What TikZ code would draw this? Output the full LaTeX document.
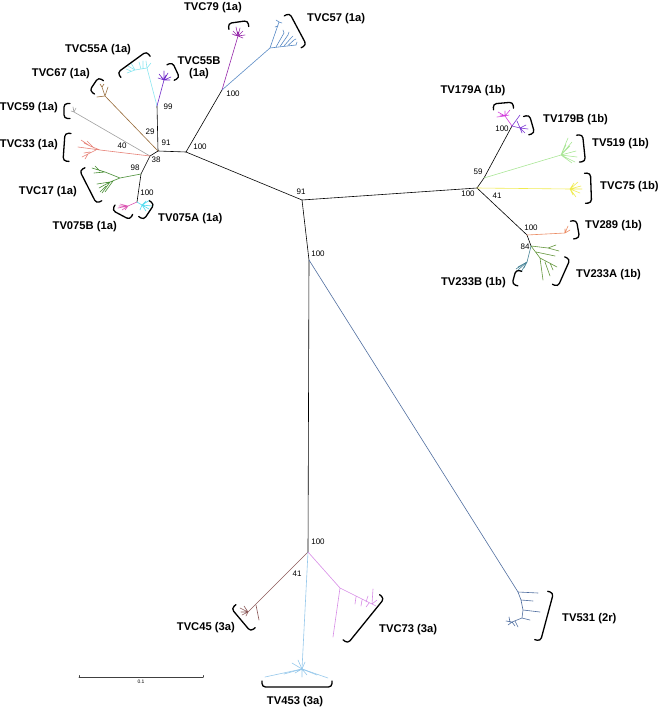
\documentclass[tikz,border=0pt]{standalone}
\usepackage{fontspec}
\setmainfont{Liberation Sans}
\usepackage{xcolor}
\usepackage{tikz}

\definecolor{c79}{RGB}{150,40,170}
\definecolor{c57}{RGB}{85,135,195}
\definecolor{c55a}{RGB}{140,230,240}
\definecolor{c55b}{RGB}{110,40,200}
\definecolor{c67}{RGB}{150,105,55}
\definecolor{c59}{RGB}{160,160,160}
\definecolor{c33}{RGB}{230,130,120}
\definecolor{c17}{RGB}{70,140,50}
\definecolor{c075b}{RGB}{220,90,180}
\definecolor{c075a}{RGB}{80,220,240}
\definecolor{c179a}{RGB}{210,60,220}
\definecolor{c179b}{RGB}{120,50,210}
\definecolor{c519}{RGB}{170,230,150}
\definecolor{c75}{RGB}{240,235,80}
\definecolor{c289}{RGB}{235,140,100}
\definecolor{c233a}{RGB}{100,150,60}
\definecolor{c233b}{RGB}{70,130,150}
\definecolor{c531}{RGB}{80,110,160}
\definecolor{c45}{RGB}{140,90,90}
\definecolor{c73}{RGB}{215,140,230}
\definecolor{c453}{RGB}{150,200,235}

\tikzset{
  branch/.style={line width=0.6pt},
  brkline/.style={line width=1.3pt, rounded corners=3.5pt},
  pics/brk/.style={code={\draw[brkline] (-#1/2,6) -- (-#1/2,0) -- (#1/2,0) -- (#1/2,6);}},
  clade/.style={font=\fontsize{11.2}{12.5}\selectfont\bfseries, inner sep=0pt},
  boot/.style={font=\fontsize{8}{9}\selectfont, inner sep=0pt},
}

\begin{document}
\begin{tikzpicture}[x=1pt, y=-1pt, line cap=round, line join=round]
        \useasboundingbox (0,0) rectangle (661,712);

        % inner nodes
        \coordinate (c91) at (302,200);
        \coordinate (a100) at (186,152);
        \coordinate (a100t) at (222,90);
        \coordinate (a91) at (158,151);
        \coordinate (a99) at (157,106);
        \coordinate (a38) at (150,156);
        \coordinate (a98) at (141,174);
        \coordinate (a075) at (137,202);
        \coordinate (r100) at (477,188);
        \coordinate (r59) at (484,178);
        \coordinate (r179) at (512,126);
        \coordinate (r289) at (527,235);
        \coordinate (r84) at (531,246);
        \coordinate (b100) at (309,260);
        \coordinate (b3a) at (308,552);

        % backbone
        \draw[branch] (a100t) -- (a100) -- (c91) -- (r100) -- (r59) -- (r179);
        \draw[branch] (a100) -- (a91) -- (a99);
        \draw[branch] (a91) -- (a38) -- (a98) -- (a075);
        \draw[branch] (r100) -- (r289) -- (r84);
        \draw[branch] (c91) -- (b100) -- (b3a);

        % TVC79
        \coordinate (k79) at (238,36);
        \draw[branch, c79] (a100t) -- (k79);
        \draw[branch, c79] foreach \dx/\dy in {-5/-5,-2/-9,2/-8,5/-5,7/-1,5/2,-4/-1,0/-4,-6/-2} {(k79) -- ++(\dx,\dy)};

        % TVC57
        \coordinate (k57) at (270,48);
        \draw[branch, c57] (a100t) -- (k57) -- (296,45);
        \draw[branch, c57] (k57) -- (279,22) (279,22) -- ++(-3,-2) (279,22) -- ++(3,1) (278,26) -- ++(-3,1)
          (276,47) -- (284,33) (280,46.5) -- (288,35) (284,46) -- (291,38) (288,45.5) -- (294,40)
          (284,33) -- ++(-1,-3) (288,35) -- ++(1,-3) (291,38) -- ++(2,-2) (294,40) -- ++(2,-1) (296,45) -- ++(1,-3);

        % TVC55A
        \coordinate (k55a) at (147,68);
        \draw[branch, c55a] (a99) -- (k55a) -- (146,61);
        \draw[branch, c55a] (k55a) -- (135,70) -- (127,73) (135,70) -- (128,66) (141,69) -- (139,62)
          (135,70) -- (131,63) (k55a) -- (151,63) (131,71) -- (126,69) (143,68) -- (143,61);

        % TVC55B
        \coordinate (k55b) at (164,80);
        \draw[branch, c55b] (a99) -- (k55b);
        \draw[branch, c55b] foreach \dx/\dy in {-5/-6,0/-9,4/-7,7/-3,-3/-3,6/0,-6/-2,2/-5} {(k55b) -- ++(\dx,\dy)};

        % TVC67
        \coordinate (k67) at (105,96);
        \draw[branch, c67] (a91) -- (k67) -- (97,97) (k67) -- (102,87) -- (100,84) (102,87) -- (104,84) (k67) -- (108,87);

        % TVC59
        \coordinate (k59) at (74,112);
        \draw[branch, c59] (a38) -- (k59) -- ++(-1,-5) (k59) -- ++(2,-4) (k59) -- ++(-3,-1);

        % TVC33
        \coordinate (k33) at (100,150);
        \draw[branch, c33] (a38) -- (k33) -- (78,147) (k33) -- (90,146) -- (81,140) (90,146) -- (84,143)
          (96,150) -- (82,157) (90,152) -- (84,153) (94,148) -- (87,141) (88,154) -- (85,159);

        % TVC17
        \coordinate (k17) at (120,178);
        \draw[branch, c17] (a98) -- (k17) -- (105,172) -- (92,168) (105,172) -- (94,173) (100,171) -- (95,166)
          (k17) -- (110,182) -- (102,193) (110,182) -- (99,188) (110,182) -- (97,184) (106,186) -- (100,192) (113,181) -- (105,192);

        % TV075B and TV075A
        \coordinate (k075b) at (128,206);
        \coordinate (k075a) at (142,205);
        \draw[branch, c075b] (a075) -- (k075b);
        \draw[branch, c075b] foreach \dx/\dy in {-10/2,-8/-2,-6/4,-3/4,-9/0} {(k075b) -- ++(\dx,\dy)};
        \draw[branch, c075a] (a075) -- (k075a);
        \draw[branch, c075a] foreach \dx/\dy in {8/-5,10/1,4/6,-2/5,4/-4,7/4} {(k075a) -- ++(\dx,\dy)};

        % TV179A and TV179B
        \coordinate (k179a) at (505,116);
        \coordinate (k179b) at (520,128);
        \draw[branch, c179a] (r179) -- (k179a);
        \draw[branch, c179a] foreach \dx/\dy in {-7/-4,-5/-1,0/-5,5/-6,4/-1,-8/1} {(k179a) -- ++(\dx,\dy)};
        \draw[branch, c179b] (r179) -- (k179b) (r179) -- (520,115);
        \draw[branch, c179b] foreach \dx/\dy in {5/5,8/1,-3/-7,6/-3,2/5} {(k179b) -- ++(\dx,\dy)};

        % TV519
        \coordinate (k519) at (561,155);
        \draw[branch, c519] (r59) -- (k519);
        \draw[branch, c519] foreach \dx/\dy in {7/-17,11/-13,15/-4,16/2,14/7,11/8,9/-9,5/-10} {(k519) -- ++(\dx,\dy)};

        % TVC75
        \coordinate (k75) at (570,189);
        \draw[branch, c75] (r100) -- (k75);
        \draw[branch, c75] foreach \dx/\dy in {8/-7,12/0,6/8,4/-6,10/4,3/6,11/-3} {(k75) -- ++(\dx,\dy)};

        % TV289
        \coordinate (k289) at (565,233);
        \draw[branch, c289] (r289) -- (k289) -- ++(3,-7) (k289) -- ++(5,-3) (k289) -- ++(0,-4);

        % TV233A
        \coordinate (k233a) at (540,258);
        \draw[branch, c233a] (r84) -- (548,248) -- (559,251) (548,248) -- (556,245) (r84) -- (k233a) -- (557,267)
          (k233a) -- (543,280) (536,252) -- (555,256) (545,262) -- (550,276) (550,263) -- (553,270);

        % TV233B
        \coordinate (k233b) at (527,262);
        \draw[branch, c233b] (r84) -- (k233b) -- (518,270);
        \draw[branch, c233b] foreach \dx/\dy in {-9/5,-6/10,-3/6,-11/7} {(k233b) -- ++(\dx,\dy)};

        % TV531
        \coordinate (k531) at (518,592);
        \draw[branch, c531] (b100) -- (k531) -- (538,593);
        \draw[branch, c531] (k531) -- (521,600) -- (523,610) -- (522,618) -- (512,622) -- (506,621)
          (521,600) -- (533,601) (523,610) -- (540,612) (522,618) -- (530,620)
          (512,622) -- (508,625) (512,622) -- (515,626) (515,621) -- (518,627) (510,622) -- (509,617);

        % TVC45
        \coordinate (k45) at (248,612);
        \draw[branch, c45] (b3a) -- (k45);
        \draw[branch, c45] foreach \dx/\dy in {-8/-4,-6/3,-4/-6,-7/0,-2/4} {(k45) -- ++(\dx,\dy)};
        \draw[branch, c45] (256,605) -- (259,620);

        % TV453
        \coordinate (k453) at (302,669);
        \draw[branch, c453] (b3a) -- (k453) -- (265,677) (k453) -- (328,678);
        \draw[branch, c453] foreach \dx/\dy in {-10/-6,-7/4,5/6,8/3,0/8,-4/-9,3/-7,-18/5,15/6} {(k453) -- ++(\dx,\dy)};

        % TVC73
        \coordinate (k73) at (340,588);
        \draw[branch, c73] (b3a) -- (k73) -- (333,637) (k73) -- (372,604) -- (373,589)
          (356,597) -- (355,604) (362,600) -- (361,606) (366,602) -- (368,596) (372,604) -- (377,600)
          (369,603) -- (366,607) (372,604) -- (376,606);

        % bootstrap values
        \node[boot] (s1) at (233,94) {100};
        \node[boot] (s2) at (168,107) {99};
        \node[boot] (s3) at (150,132) {29};
        \node[boot] (s4) at (166,143) {91};
        \node[boot] (s5) at (200,147) {100};
        \node[boot] (s6) at (122,146) {40};
        \node[boot] (s7) at (156,160) {38};
        \node[boot] (s8) at (135,168) {98};
        \node[boot] (s9) at (147,193) {100};
        \node[boot] (s10) at (301,192) {91};
        \node[boot] (s11) at (502,129) {100};
        \node[boot] (s12) at (478,172) {59};
        \node[boot] (s13) at (468,194) {100};
        \node[boot] (s14) at (497,196) {41};
        \node[boot] (s15) at (531,228) {100};
        \node[boot] (s16) at (525,247) {84};
        \node[boot] (s17) at (318,254) {100};
        \node[boot] (s18) at (318,542) {100};
        \node[boot] (s19) at (297,574) {41};

        % brackets
        \pic[rotate=8] at (238,22) {brk=20};
        \pic[rotate=-62] at (298,29) {brk=36};
        \pic[rotate=36] at (132,62) {brk=36};
        \pic[rotate=-65] at (176,70) {brk=17};
        \pic[rotate=56] at (94,84) {brk=16};
        \pic[rotate=90] at (64,111) {brk=15};
        \pic[rotate=86] at (64,147) {brk=28};
        \pic[rotate=117] at (88,187) {brk=37};
        \pic[rotate=152] at (121,215) {brk=20};
        \pic[rotate=-124] at (149,212) {brk=19};
        \pic[rotate=5] at (503,103) {brk=20};
        \pic[rotate=-74] at (532,124) {brk=19};
        \pic[rotate=-84] at (584,148) {brk=27};
        \pic[rotate=-88] at (591,188) {brk=30};
        \pic[rotate=-80] at (578,229) {brk=18};
        \pic[rotate=-114] at (564,273) {brk=30};
        \pic[rotate=75] at (514,277) {brk=15};
        \pic[rotate=-105] at (547,617) {brk=50};
        \pic[rotate=130] at (241,620) {brk=30};
        \pic[rotate=-129] at (366,621) {brk=58};
        \pic[rotate=180] at (297,687) {brk=70};

        % clade names
        \node[clade] (t79) at (213,8) {TVC79 (1a)};
        \node[clade, anchor=west] (t57) at (307,19) {TVC57 (1a)};
        \node[clade] (t55a) at (98,50) {TVC55A (1a)};
        \node[clade, align=center] (t55b) at (199,68) {TVC55B\\(1a)};
        \node[clade, anchor=east] (t67) at (90,74) {TVC67 (1a)};
        \node[clade, anchor=east] (t59) at (58,108) {TVC59 (1a)};
        \node[clade, anchor=east] (t33) at (58,145) {TVC33 (1a)};
        \node[clade, anchor=east] (t17) at (77,192) {TVC17 (1a)};
        \node[clade, anchor=east] (t075b) at (117,227) {TV075B (1a)};
        \node[clade, anchor=west] (t075a) at (158,219) {TV075A (1a)};
        \node[clade] (t179a) at (473,91) {TV179A (1b)};
        \node[clade, anchor=west] (t179b) at (543,120) {TV179B (1b)};
        \node[clade, anchor=west] (t519) at (592,144) {TV519 (1b)};
        \node[clade, anchor=west] (t75) at (600,187) {TVC75 (1b)};
        \node[clade, anchor=west] (t289) at (585,226) {TV289 (1b)};
        \node[clade, anchor=west] (t233a) at (576,275) {TV233A (1b)};
        \node[clade, anchor=east] (t233b) at (506,283) {TV233B (1b)};
        \node[clade, anchor=west] (t531) at (562,619) {TV531 (2r)};
        \node[clade, anchor=east] (t45) at (235,628) {TVC45 (3a)};
        \node[clade, anchor=west] (t73) at (379,630) {TVC73 (3a)};
        \node[clade] (t453) at (295,702) {TV453 (3a)};

        % scale bar
        \coordinate (sb0) at (79,677);
        \coordinate (sb1) at (203,677);
        \draw[line width=0.8pt, black!75] (sb0) -- (sb1) (sb0) -- ++(0,-1.5) (sb1) -- ++(0,-1.5);
        \node[font=\fontsize{5}{6}\selectfont, inner sep=0pt] (sbl) at (141,682) {0.1};
    \end{tikzpicture}
\end{document}
